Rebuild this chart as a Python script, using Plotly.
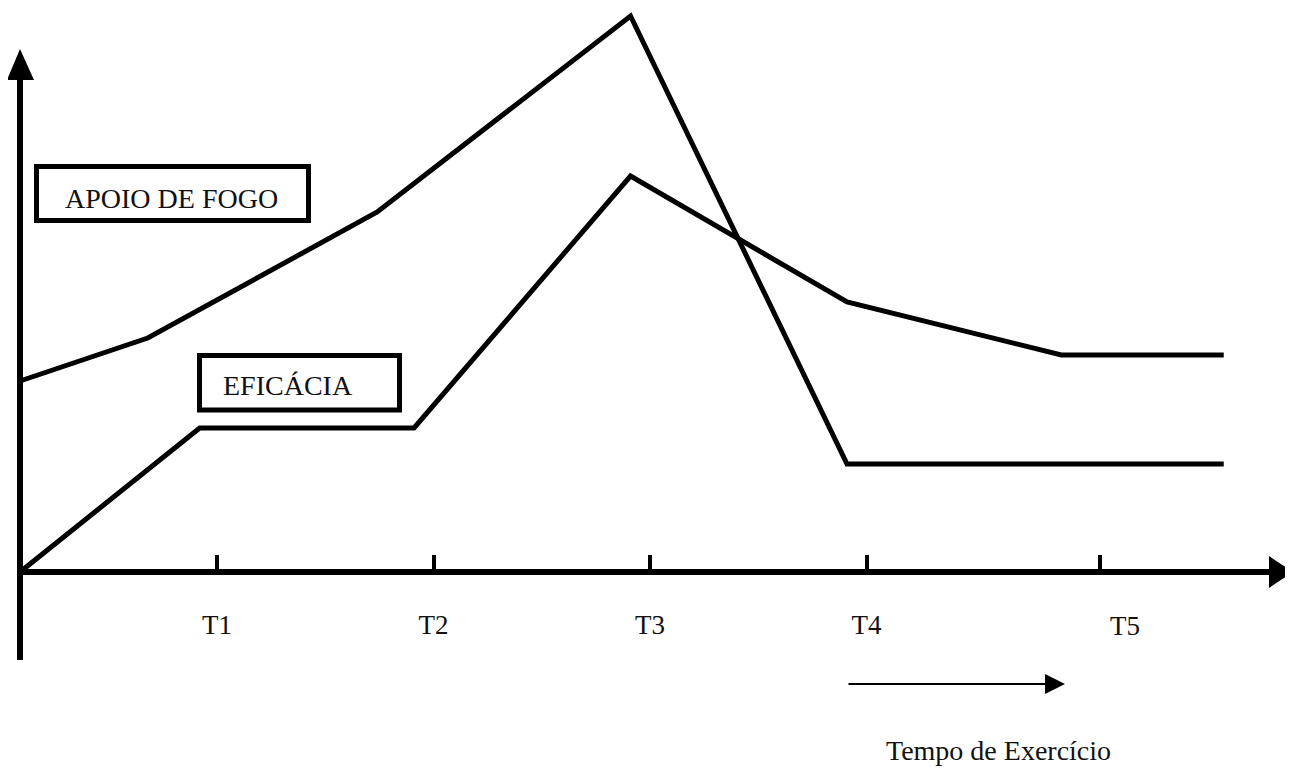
import plotly.graph_objects as go

# ---------------- data (schematic values) ----------------
tick_vals = [0.91, 1.91, 2.91, 3.91, 4.99]
tick_labels = ["T1", "T2", "T3", "T4", "T5"]

apoio_x = [0.0, 0.59, 1.65, 2.82, 3.82, 5.56]
apoio_y = [3.82, 4.68, 7.20, 11.12, 2.16, 2.16]

eficacia_x = [0.0, 0.83, 1.82, 2.82, 3.82, 4.81, 5.56]
eficacia_y = [0.0, 2.88, 2.88, 7.92, 5.40, 4.34, 4.34]

series_names = ["APOIO DE FOGO", "EFICÁCIA"]
x_title = "Tempo de Exercício"

# ---------------- geometry helpers (reference pixel -> data) ----------------
VW, VH = 1293, 769          # browser window
OFF = 8                     # default page margin of the html body
W, H = VW - OFF, VH - OFF   # figure size so that it ends at the window edge
X0_PX, XS = 20.0, 216.5     # reference px of x=0, px per unit
Y0_PX, YS = 572.0, 50.0     # reference px of y=0, px per unit
XR = [(OFF - X0_PX) / XS, (VW - X0_PX) / XS]
YR = [(Y0_PX - VH) / YS, (Y0_PX - OFF) / YS]


def X(px):
    return (px - X0_PX) / XS


def Y(py):
    return (Y0_PX - py) / YS


FONT = "Liberation Serif, Times New Roman, serif"
BLACK = "#000000"
TXT = "#111111"

fig = go.Figure()
fig.add_trace(go.Scatter(x=apoio_x, y=apoio_y, mode="lines", name=series_names[0],
                         line=dict(color=BLACK, width=5), hoverinfo="skip", showlegend=False))
fig.add_trace(go.Scatter(x=eficacia_x, y=eficacia_y, mode="lines", name=series_names[1],
                         line=dict(color=BLACK, width=5), hoverinfo="skip", showlegend=False))

shapes = []
# y axis line and arrowhead
shapes.append(dict(type="line", xref="x", yref="y", x0=0, x1=0, y0=Y(660), y1=Y(78),
                   line=dict(color=BLACK, width=6)))
shapes.append(dict(type="path", xref="x", yref="y",
                   path=f"M {X(7)},{Y(80)} L {X(34)},{Y(80)} L {X(20)},{Y(49)} Z",
                   fillcolor=BLACK, line=dict(width=0)))
# x axis line and arrowhead
shapes.append(dict(type="line", xref="x", yref="y", x0=X(17), x1=X(1271), y0=0, y1=0,
                   line=dict(color=BLACK, width=6)))
shapes.append(dict(type="path", xref="x", yref="y",
                   path=f"M {X(1269)},{Y(556)} L {X(1269)},{Y(588)} L {X(1293)},{Y(572)} Z",
                   fillcolor=BLACK, line=dict(width=0)))
# label boxes
shapes.append(dict(type="rect", xref="x", yref="y", x0=X(36.5), x1=X(308.5), y0=Y(166.5), y1=Y(220.5),
                   line=dict(color=BLACK, width=5), fillcolor="rgba(0,0,0,0)"))
shapes.append(dict(type="rect", xref="x", yref="y", x0=X(199.5), x1=X(399.5), y0=Y(355.5), y1=Y(410),
                   line=dict(color=BLACK, width=5), fillcolor="rgba(0,0,0,0)"))

annotations = [
    dict(text=series_names[0], x=X(171), y=Y(198), xref="x", yref="y", showarrow=False,
         xanchor="center", yanchor="middle", font=dict(family=FONT, size=28, color=TXT)),
    dict(text=series_names[1], x=X(288), y=Y(385), xref="x", yref="y", showarrow=False,
         xanchor="center", yanchor="middle", font=dict(family=FONT, size=28, color=TXT)),
    dict(text=tick_labels[4], x=X(1125), y=Y(626), xref="x", yref="y", showarrow=False,
         xanchor="center", yanchor="middle", font=dict(family=FONT, size=27, color=TXT)),
    dict(text="", x=X(1065), y=Y(684), ax=X(847), ay=Y(684), xref="x", yref="y",
         axref="x", ayref="y", showarrow=True, arrowhead=2, arrowsize=2, arrowwidth=2,
         arrowcolor=BLACK),
    dict(text=x_title, x=X(998), y=Y(750), xref="x", yref="y", showarrow=False,
         xanchor="center", yanchor="middle", font=dict(family=FONT, size=28, color=TXT)),
]

fig.update_layout(
    width=W, height=H,
    margin=dict(l=0, r=0, t=0, b=0),
    paper_bgcolor="white", plot_bgcolor="white",
    shapes=shapes, annotations=annotations,
    showlegend=False,
    xaxis=dict(range=XR, domain=[0, 1], anchor="free", position=1 - (Y0_PX - OFF) / H,
               showgrid=False, zeroline=False, showline=False,
               tickmode="array", tickvals=tick_vals,
               ticktext=tick_labels[:4] + [""],
               ticks="inside", ticklen=17, tickwidth=4, tickcolor=BLACK,
               ticklabelstandoff=34,
               tickfont=dict(family=FONT, size=27, color=TXT),
               fixedrange=True),
    yaxis=dict(range=YR, domain=[0, 1], showgrid=False, zeroline=False, showline=False,
               showticklabels=False, ticks="", fixedrange=True),
)

fig.write_html("out.html")
